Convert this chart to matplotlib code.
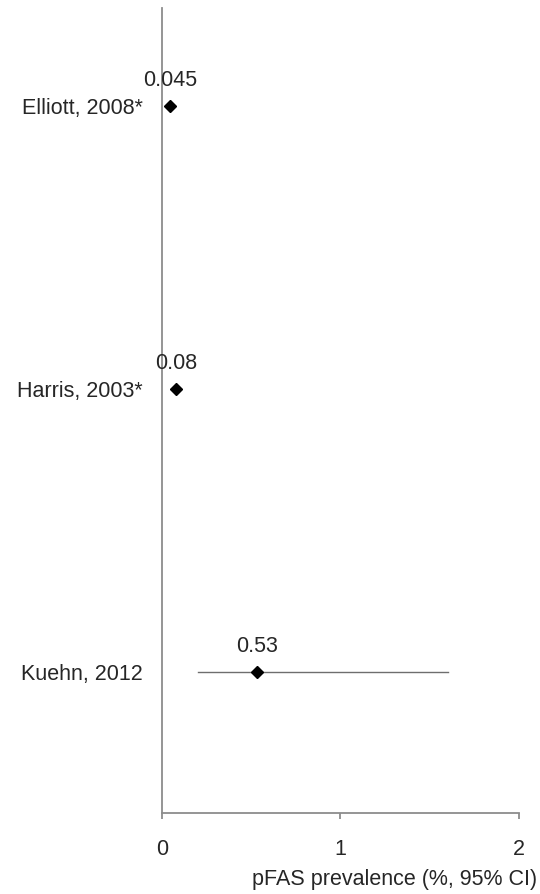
import matplotlib
matplotlib.use("Agg")
import matplotlib.pyplot as plt

plt.rcParams['font.family'] = ['Liberation Sans', 'DejaVu Sans']

# Study data
studies = ["Elliott, 2008*", "Harris, 2003*", "Kuehn, 2012"]
prevalence = [0.045, 0.08, 0.53]
ci_low = [None, None, 0.2]
ci_high = [None, None, 1.6]
value_labels = ["0.045", "0.08", "0.53"]
x_ticks = [0, 1, 2]

ypos = [3, 2, 1]
fs = 15.5

fig = plt.figure(figsize=(5.4, 8.94), dpi=100)
ax = fig.add_axes([0.3, 0.0906, 0.661, 0.9004])

axis_col = "#8c8c8c"
text_col = "#262626"

for y, x, lo, hi, lab in zip(ypos, prevalence, ci_low, ci_high, value_labels):
    if lo is not None:
        ax.plot([lo, hi], [y, y], color="#6e6e6e", lw=1.0, zorder=2)
    ax.plot(x, y, marker="D", color="black", markersize=6.5, zorder=3)
    ax.annotate(lab, (x, y), xytext=(0, 14), textcoords="offset points",
                ha="center", va="baseline", fontsize=fs, color=text_col)

ax.set_xlim(0, 2)
ax.set_ylim(0.5, 3.345)
ax.set_xticks(x_ticks)
ax.set_xticklabels([str(t) for t in x_ticks])
ax.set_yticks(ypos)
ax.set_yticklabels(studies)

for s in ["top", "right"]:
    ax.spines[s].set_visible(False)
for s in ["left", "bottom"]:
    ax.spines[s].set_color(axis_col)
    ax.spines[s].set_linewidth(1.3)

ax.tick_params(axis="x", direction="out", length=4, width=1.3, color=axis_col,
               labelsize=fs, labelcolor=text_col, pad=14.5)
ax.tick_params(axis="y", length=0, labelsize=fs, labelcolor=text_col, pad=14)

fig.text(0.994, 0.016, "pFAS prevalence (%, 95% CI)", ha="right", va="center",
         fontsize=fs, color=text_col)

fig.savefig("out.png", dpi=100)
